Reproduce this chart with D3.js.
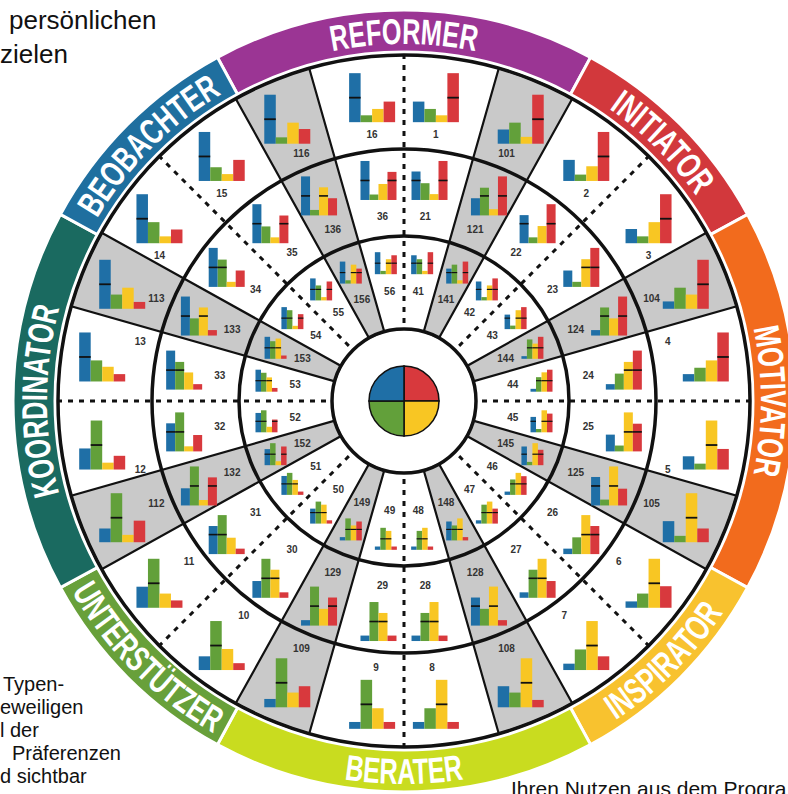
<!DOCTYPE html>
<html>
<head>
<meta charset="utf-8">
<style>
  body { margin: 0; background: #fff; }
  svg { display: block; }
  .band-label { font-family: "Liberation Sans", Arial, sans-serif; font-weight: bold; font-size: 36px; fill: #fff; }
  .type-label { font-family: Arial, "Liberation Sans", sans-serif; font-weight: bold; font-size: 10px; fill: #333; }
  .page-text { font-family: Arial, "Liberation Sans", sans-serif; fill: #111; }
</style>
<script src="https://cdn.jsdelivr.net/npm/d3@7"></script>
</head>
<body>
<svg id="chart"></svg>
<script>
var w = 788, h = 794;
var cx = 404, cy = 401;

// bar order inside every little chart
var barKeys = ["blau", "gruen", "gelb", "rot"];
var barColors = ["#1f6fa6", "#62a03a", "#f8c623", "#d8393d"];

var bandNames = ["REFORMER", "INITIATOR", "MOTIVATOR", "INSPIRATOR", "BERATER", "UNTERSTÜTZER", "KOORDINATOR", "BEOBACHTER"];
var bandColors = ["#9b3594", "#d2383c", "#f26b1d", "#f8c22f", "#c9dc1f", "#68a03a", "#1a6a60", "#1f6f9f"];

// outer ring, clockwise from the top, two types per sector
var outerIds = [16, 1, 2, 3, 4, 5, 6, 7, 8, 9, 10, 11, 12, 13, 14, 15];
var outerValues = [
  [100, 14, 27, 42], [42, 27, 14, 100],
  [43, 13, 30, 100], [29, 14, 43, 100],
  [15, 28, 43, 100], [27, 12, 100, 42],
  [13, 29, 100, 44], [13, 42, 100, 28],
  [14, 42, 100, 14], [14, 100, 42, 14],
  [28, 100, 43, 14], [43, 100, 29, 15],
  [43, 100, 14, 28], [100, 43, 30, 15],
  [100, 43, 14, 28], [100, 28, 14, 43]
];
var outerGrayIds = [101, 104, 105, 108, 109, 112, 113, 116];
var outerGrayValues = [
  [29, 43, 14, 100], [15, 43, 29, 100], [43, 13, 100, 28], [43, 30, 100, 15],
  [17, 100, 30, 43], [28, 100, 15, 44], [100, 29, 43, 14], [100, 13, 43, 30]
];

var middleIds = [36, 21, 22, 23, 24, 25, 26, 27, 28, 29, 30, 31, 32, 33, 34, 35];
var middleValues = [
  [100, 14, 41, 72], [73, 43, 15, 100],
  [72, 15, 44, 100], [42, 13, 71, 100],
  [14, 41, 71, 100], [43, 15, 100, 71],
  [14, 43, 100, 72], [14, 72, 100, 43],
  [14, 72, 100, 14], [14, 100, 72, 14],
  [43, 100, 72, 14], [72, 100, 42, 14],
  [72, 100, 13, 42], [100, 71, 44, 14],
  [100, 70, 13, 42], [100, 43, 15, 71]
];
var middleGrayIds = [121, 124, 125, 128, 129, 132, 133, 136];
var middleGrayValues = [
  [44, 71, 16, 100], [14, 72, 44, 100], [73, 15, 100, 43], [72, 43, 100, 14],
  [14, 100, 43, 72], [44, 100, 14, 72], [100, 44, 72, 14], [100, 14, 72, 44]
];

var innerIds = [56, 41, 42, 43, 44, 45, 46, 47, 48, 49, 50, 51, 52, 53, 54, 55];
var innerValues = [
  [100, 15, 68, 86], [86, 68, 15, 100],
  [86, 15, 68, 100], [66, 16, 86, 100],
  [13, 66, 88, 100], [70, 15, 100, 85],
  [15, 70, 100, 85], [15, 86, 100, 68],
  [15, 86, 100, 15], [15, 100, 86, 15],
  [68, 100, 86, 15], [86, 100, 68, 15],
  [88, 100, 25, 58], [100, 86, 65, 17],
  [100, 86, 15, 68], [100, 68, 15, 86]
];
var innerGrayIds = [141, 144, 145, 148, 149, 152, 153, 156];
var innerGrayValues = [
  [68, 86, 15, 100], [12, 88, 69, 100], [85, 15, 100, 70], [86, 68, 100, 15],
  [15, 100, 68, 86], [73, 100, 18, 85], [100, 80, 92, 15], [100, 15, 86, 68]
];

var rings = [
  { ids: outerIds, values: outerValues, grayIds: outerGrayIds, grayValues: outerGrayValues, r: 305, bw: 46, bh: 49, spreadV: 6, spreadO: 8.3, lab: 37, stroke: 1.8, name: "outer" },
  { ids: middleIds, values: middleValues, grayIds: middleGrayIds, grayValues: middleGrayValues, r: 222, bw: 36, bh: 39, spreadV: 6.6, spreadO: 8, lab: 36, stroke: 1.6, name: "middle" },
  { ids: innerIds, values: innerValues, grayIds: innerGrayIds, grayValues: innerGrayValues, r: 139, bw: 22, bh: 22, spreadV: 7.5, spreadO: 8.4, lab: 29, stroke: 1.2, name: "inner" }
];

var rad = Math.PI / 180;
function px(r, deg) { return cx + r * Math.sin(deg * rad); }
function py(r, deg) { return cy - r * Math.cos(deg * rad); }

var svg = d3.select("#chart").attr("width", w).attr("height", h);

// page text around the wheel (cropped document)
svg.append("text").attr("class", "page-text").attr("x", 9).attr("y", 29).style("font-size", "26px").text("persönlichen");
svg.append("text").attr("class", "page-text").attr("x", 0).attr("y", 63).style("font-size", "26px").text("zielen");
var leftLines = [["Typen-", 3], ["eweiligen", 0], ["l der", 0], ["Präferenzen", 12], ["d sichtbar", 0]];
svg.append("g").selectAll("text").data(leftLines).enter().append("text")
  .attr("class", "page-text").style("font-size", "20px")
  .attr("x", function(d) { return d[1]; })
  .attr("y", function(d, i) { return 691 + i * 23; })
  .text(function(d) { return d[0]; });
svg.append("text").attr("class", "page-text").attr("x", 511).attr("y", 796).style("font-size", "21px").text("Ihren Nutzen aus dem Progra");

var wheel = svg.append("g").attr("transform", "translate(" + cx + "," + cy + ")");

// coloured outer band
var bandSpans = [[-28.5, 28.5], [28.5, 61.5], [61.5, 118.5], [118.5, 151.5], [151.5, 208.5], [208.5, 241.5], [241.5, 298.5], [298.5, 331.5]];
var bandArc = d3.arc().innerRadius(349).outerRadius(391);
wheel.append("g").selectAll("path").data(bandSpans).enter().append("path")
  .attr("d", function(d) { return bandArc({ startAngle: d[0] * rad, endAngle: d[1] * rad }); })
  .attr("fill", function(d, i) { return bandColors[i]; })
  .attr("stroke", "#fff").attr("stroke-width", 3);

var defs = svg.append("defs");
bandSpans.forEach(function(d, i) {
  var flip = (i >= 3 && i <= 5);
  var r = flip ? 383 : 357;
  var p = d3.path();
  var a0 = (d[0] - 90) * rad, a1 = (d[1] - 90) * rad;
  if (!flip) {
    p.moveTo(cx + r * Math.cos(a0), cy + r * Math.sin(a0));
    p.arc(cx, cy, r, a0, a1, false);
  } else {
    p.moveTo(cx + r * Math.cos(a1), cy + r * Math.sin(a1));
    p.arc(cx, cy, r, a1, a0, true);
  }
  defs.append("path").attr("id", "band-path-" + i).attr("d", p.toString());
  var t = svg.append("text").attr("class", "band-label");
  var tp = t.append("textPath").attr("href", "#band-path-" + i)
    .attr("startOffset", "50%").attr("text-anchor", "middle").text(bandNames[i]);
  // squeeze the letters like a condensed face
  var natural = t.node().getComputedTextLength();
  tp.attr("textLength", natural * 0.7).attr("lengthAdjust", "spacingAndGlyphs");
});

// gray wedges
var grayArc = d3.arc().innerRadius(72).outerRadius(346);
var grayAngles = d3.range(8).map(function(k) { return 22.5 + 45 * k; });
wheel.append("g").selectAll("path").data(grayAngles).enter().append("path")
  .attr("d", function(a) { return grayArc({ startAngle: (a - 6.6) * rad, endAngle: (a + 6.6) * rad }); })
  .attr("fill", "#c9c9c9").attr("stroke", "#111").attr("stroke-width", 2.2);

// dashed dividers
var dashAngles = d3.range(8).map(function(k) { return 45 * k; });
wheel.append("g").selectAll("line").data(dashAngles).enter().append("line")
  .attr("x1", function(a) { return 78 * Math.sin(a * rad); })
  .attr("y1", function(a) { return -78 * Math.cos(a * rad); })
  .attr("x2", function(a) { return 346 * Math.sin(a * rad); })
  .attr("y2", function(a) { return -346 * Math.cos(a * rad); })
  .attr("stroke", "#111").attr("stroke-width", 3).attr("stroke-dasharray", "5,6");

// ring circles
wheel.append("g").selectAll("circle").data([72, 165, 252, 346]).enter().append("circle")
  .attr("r", function(d) { return d; })
  .attr("fill", "none").attr("stroke", "#111").attr("stroke-width", 3.5);

// little bar charts
function drawMini(g, values, ring) {
  var x = d3.scaleBand().domain(barKeys).range([0, ring.bw]);
  var maxV = d3.max(values);
  var y = d3.scaleLinear().domain([0, maxV]).range([ring.bh, 0]);
  g.selectAll("rect").data(values).enter().append("rect")
    .attr("x", function(d, i) { return x(barKeys[i]); })
    .attr("y", function(d) { return y(d); })
    .attr("width", x.bandwidth())
    .attr("height", function(d) { return ring.bh - y(d); })
    .attr("fill", function(d, i) { return barColors[i]; });
  var marked = d3.range(4).filter(function(i) { return values[i] >= maxV / 2; });
  g.selectAll("line").data(marked).enter().append("line")
    .attr("x1", function(i) { return x(barKeys[i]); })
    .attr("x2", function(i) { return x(barKeys[i]) + x.bandwidth(); })
    .attr("y1", y(maxV / 2)).attr("y2", y(maxV / 2))
    .attr("stroke", "#111").attr("stroke-width", ring.stroke);
}

function labelOffset(ring, deg, isGray, sector, chartY) {
  var ux = -Math.sin(deg * rad), uy = Math.cos(deg * rad);
  if (ring.name == "outer" && !isGray) {
    if (sector == 7 || sector == 0 || sector == 1) return [0, 37];
    if (sector == 2) return [-38, chartY < cy ? -15 : 24];
    if (sector == 6) return [38, chartY < cy ? -15 : 24];
  }
  return [ux * ring.lab, uy * ring.lab];
}

var chartLayer = svg.append("g");
rings.forEach(function(ring) {
  var items = [];
  ring.ids.forEach(function(id, i) {
    var s = Math.floor(i / 2), side = i % 2 ? 1 : -1;
    var spread = s % 4 == 0 ? ring.spreadV : ring.spreadO;
    items.push({ id: id, values: ring.values[i], deg: s * 45 + side * spread, gray: false, sector: s });
  });
  ring.grayIds.forEach(function(id, k) {
    items.push({ id: id, values: ring.grayValues[k], deg: 22.5 + 45 * k, gray: true, sector: k });
  });
  items.forEach(function(it) {
    var mx = px(ring.r, it.deg), my = py(ring.r, it.deg);
    var g = chartLayer.append("g")
      .attr("transform", "translate(" + (mx - ring.bw / 2) + "," + (my - ring.bh / 2) + ")");
    drawMini(g, it.values, ring);
    var off = labelOffset(ring, it.deg, it.gray, it.sector, my);
    chartLayer.append("text").attr("class", "type-label")
      .attr("x", mx + off[0]).attr("y", my + off[1])
      .attr("text-anchor", "middle").attr("dominant-baseline", "central")
      .text(it.id);
  });
});

// centre disc with the four colours
var pie = d3.pie().sort(null).value(function() { return 1; });
var hubArc = d3.arc().innerRadius(0).outerRadius(35);
var hubColors = ["#d8393d", "#f8c623", "#62a03a", "#1f6fa6"];
wheel.append("g").selectAll("path").data(pie(hubColors)).enter().append("path")
  .attr("d", hubArc)
  .attr("fill", function(d) { return d.data; })
  .attr("stroke", "#111").attr("stroke-width", 1.5);
</script>
</body>
</html>
